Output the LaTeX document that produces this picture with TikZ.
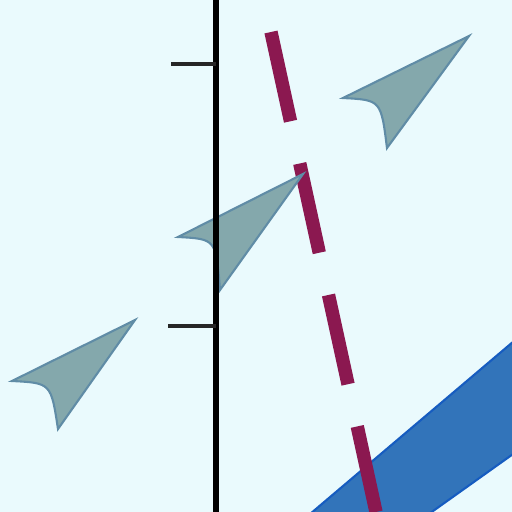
\documentclass[tikz,border=0pt]{standalone}
\definecolor{bgc}{RGB}{234,250,253}
\definecolor{bandfill}{RGB}{50,116,186}
\definecolor{bandedge}{RGB}{22,92,192}
\definecolor{maroon}{RGB}{139,24,80}
\definecolor{arrfill}{RGB}{132,168,172}
\definecolor{arredge}{RGB}{96,140,166}
\begin{document}
\begin{tikzpicture}[x=0.02cm,y=-0.02cm,
  arrowhead/.style={fill=arrfill,draw=arredge,line width=1.2pt,line join=miter},
  axisline/.style={draw=black,line width=3.2pt},
  tickline/.style={draw=black!85,line width=2.8pt},
  dashline/.style={draw=maroon,line width=7.6pt,dash pattern=on 52pt off 24.6pt},
  band/.style={fill=bandfill,draw=bandedge,line width=1.2pt}]
\fill[bgc] (0,0) rectangle (512,512);
\useasboundingbox (0,0) rectangle (512,512);
% blue band
\begin{scope}
\clip (0,0) rectangle (512,512);
\draw[band] (290,531) -- (540,319) -- (610,385) -- (405,531) -- cycle;
\end{scope}
% dashed line
\coordinate (d1) at (271,32);
\coordinate (d2) at (376,512);
\begin{scope}
\clip (0,0) rectangle (512,512);
\draw[dashline] (d1) -- (d2);
\end{scope}
% arrowheads
\draw[arrowhead] (469,36) -- (343,98) .. controls (381,100) .. (387,148) -- cycle;
\draw[arrowhead] (303,174) -- (178,237) .. controls (216,239) .. (220,290) -- cycle;
\draw[arrowhead] (135,320) -- (12,381) .. controls (51,383) .. (58,429) -- cycle;
% axis
\coordinate (atop) at (216,0);
\coordinate (abot) at (216,512);
\coordinate (t1) at (216,64);
\coordinate (t1e) at (171,64);
\coordinate (t2) at (216,326);
\coordinate (t2e) at (168,326);
\draw[axisline] (atop) -- (abot);
\draw[tickline] (t1) -- (t1e);
\draw[tickline] (t2) -- (t2e);
\end{tikzpicture}
\end{document}
